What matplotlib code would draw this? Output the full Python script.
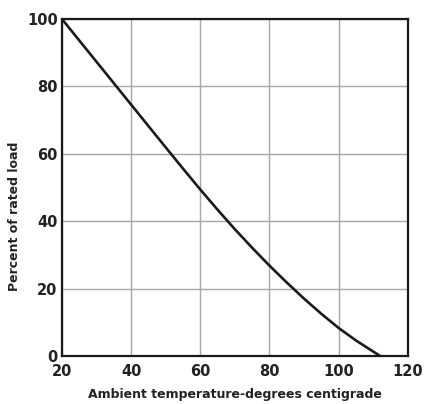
import matplotlib
matplotlib.use("Agg")
import matplotlib.pyplot as plt

temperature = [20, 25, 30, 35, 40, 45, 50, 55, 60, 65, 70, 75, 80, 85, 90, 95, 100, 105, 110, 112]
percent_load = [100, 93.65, 87.3, 80.95, 74.6, 68.25, 61.9, 55.6, 49.4, 43.4, 37.6, 32.1,
                26.8, 21.8, 17.0, 12.5, 8.3, 4.6, 1.3, 0]
x_ticks = [20, 40, 60, 80, 100, 120]
y_ticks = [0, 20, 40, 60, 80, 100]

fig = plt.figure(figsize=(4.27, 4.04), dpi=100)
ax = fig.add_axes([0.145, 0.119, 0.81, 0.834])
ax.plot(temperature, percent_load, color="#1a1a1a", lw=1.9,
        solid_capstyle="round", solid_joinstyle="round")
ax.set_xlim(20, 120)
ax.set_ylim(0, 100)
ax.set_xticks(x_ticks)
ax.set_yticks(y_ticks)
ax.grid(True, color="#a8a8a8", lw=1.0)
ax.tick_params(length=0, labelsize=10.5)
ax.tick_params(axis="x", pad=6)
ax.tick_params(axis="y", pad=3)
for lab in ax.get_xticklabels() + ax.get_yticklabels():
    lab.set_fontweight("bold")
    lab.set_color("#222222")
for s in ax.spines.values():
    s.set_linewidth(1.6)
    s.set_color("#1a1a1a")
ax.set_xlabel("Ambient temperature-degrees centigrade", fontsize=9, fontweight="bold",
              color="#222222", labelpad=6)
ax.set_ylabel("Percent of rated load", fontsize=9, fontweight="bold", color="#222222")
ax.yaxis.set_label_coords(-0.118, 0.415)
fig.savefig("out.png", dpi=100)
